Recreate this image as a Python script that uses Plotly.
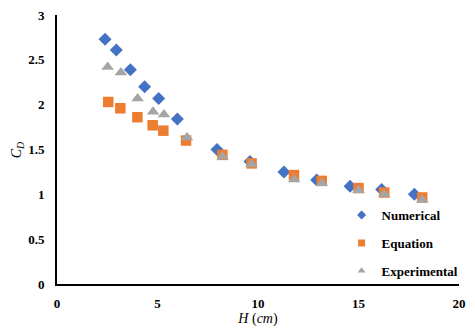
import plotly.graph_objects as go

num_h = [2.39, 2.95, 3.65, 4.36, 5.06, 5.99, 7.96, 9.6, 11.29, 12.92, 14.58, 16.15, 17.78]
num_cd = [2.73, 2.61, 2.39, 2.20, 2.07, 1.84, 1.50, 1.365, 1.25, 1.16, 1.09, 1.055, 1.0]

eq_h = [2.55, 3.15, 4.0, 4.76, 5.29, 6.42, 8.23, 9.68, 11.79, 13.17, 15.0, 16.28, 18.17]
eq_cd = [2.03, 1.96, 1.86, 1.77, 1.71, 1.60, 1.44, 1.345, 1.215, 1.15, 1.07, 1.02, 0.965]

exp_h = [2.52, 3.18, 4.01, 4.78, 5.32, 6.47, 8.24, 9.68, 11.8, 13.18, 15.0, 16.28, 18.17]
exp_cd = [2.42, 2.36, 2.07, 1.92, 1.89, 1.635, 1.42, 1.335, 1.165, 1.125, 1.045, 1.0, 0.94]

series_names = ["Numerical", "Equation", "Experimental"]
x_ticks = [0, 5, 10, 15, 20]
y_ticks = [0, 0.5, 1, 1.5, 2, 2.5, 3]
y_tick_text = ["0", "0.5", "1", "1.5", "2", "2.5", "3"]

FONT = "Liberation Serif"
COLORS = ["#4472C4", "#ED7D31", "#A5A5A5"]
SYMBOLS = ["diamond", "square", "triangle-up"]
SIZES = [10, 10.5, 11]
LEG_SIZES = [7, 7, 7]

fig = go.Figure()
for i, (xs, ys) in enumerate([(num_h, num_cd), (eq_h, eq_cd), (exp_h, exp_cd)]):
    fig.add_trace(go.Scatter(x=xs, y=ys, mode="markers", showlegend=False,
                             marker=dict(symbol=SYMBOLS[i], size=SIZES[i], color=COLORS[i])))
for i, name in enumerate(series_names):
    fig.add_trace(go.Scatter(x=[None], y=[None], mode="markers", name=f"<b>{name}</b>",
                             legendgroup=name,
                             marker=dict(symbol=SYMBOLS[i], size=LEG_SIZES[i], color=COLORS[i])))

fig.update_layout(
    width=475, height=334,
    margin=dict(l=49, r=24, t=7, b=58),
    paper_bgcolor="white", plot_bgcolor="white",
    font=dict(family=FONT, size=13, color="black"),
    showlegend=True,
    legend=dict(x=0.708, y=0.312, xanchor="left", yanchor="top",
                bgcolor="rgba(0,0,0,0)", tracegroupgap=8,
                font=dict(family=FONT, size=13, color="black")),
    xaxis=dict(range=[0, 20], tickvals=x_ticks, ticktext=[f"<b>{v}</b>" for v in x_ticks],
               showgrid=False, zeroline=False, showline=True, linecolor="black", linewidth=2,
               ticks="", ticklen=0, ticklabelstandoff=6, ticklabeloverflow="allow",
               title=dict(text="<i>H</i> (<i>cm</i>)", standoff=3,
                          font=dict(family=FONT, size=14))),
    yaxis=dict(range=[0, 3], tickvals=y_ticks, ticktext=[f"<b>{t}</b>" for t in y_tick_text],
               showgrid=False, zeroline=False, showline=True, linecolor="black", linewidth=2,
               ticks="", ticklen=0, ticklabelstandoff=8, ticklabeloverflow="allow",
               automargin=False),
    annotations=[dict(text="<i>C<sub>D</sub></i>", xref="paper", yref="paper",
                      x=-0.125, y=0.498, textangle=-90, showarrow=False,
                      font=dict(family=FONT, size=14))],
)

fig.write_html("out.html")
